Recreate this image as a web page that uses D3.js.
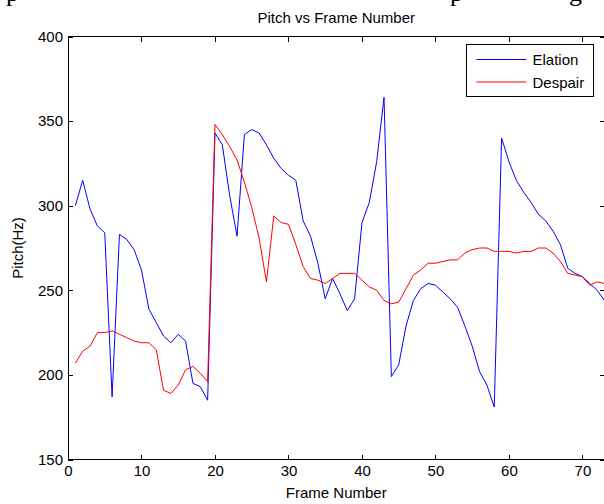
<!DOCTYPE html>
<html>
<head>
<meta charset="utf-8">
<style>
body { margin: 0; background: #fff; }
svg text { font-family: "Liberation Sans", Arial, sans-serif; fill: #000; }
.axis path, .axis line { fill: none; stroke: #000; shape-rendering: crispEdges; }
.axis text { font-size: 15px; }
.clip-text { font-family: "Liberation Serif", "DejaVu Serif", serif !important; font-size: 26px; }
</style>
</head>
<body>
<svg id="chart"></svg>
<script src="https://d3js.org/d3.v7.min.js"></script>
<script>

var frames = d3.range(1, 74)

var elation = [300, 315, 298, 288, 284, 187, 283, 280, 274, 262,
  239, 231, 223, 219, 224, 220, 195, 193, 185, 343,
  336, 306, 282, 342, 345, 343, 336, 328, 322, 318,
  315, 291, 282, 266, 245, 257, 248, 238, 245, 290,
  302, 326, 364, 199, 206, 229, 244, 251, 254, 253,
  249, 245, 240, 229, 217, 202, 194, 181, 340, 326,
  315, 308, 302, 295, 291, 285, 277, 263, 260, 258,
  254, 250, 244]

var despair = [207, 214, 217, 225, 225, 226, 224, 222, 220, 219,
  219, 215, 191, 189, 194, 203, 205, 201, 196, 348,
  342, 335, 327, 314, 299, 281, 255, 294, 290, 289,
  277, 264, 257, 256, 254, 257, 260, 260, 260, 256,
  252, 250, 244, 242, 243, 251, 259, 262, 266, 266,
  267, 268, 268, 272, 274, 275, 275, 273, 273, 273,
  272, 273, 273, 275, 275, 272, 267, 260, 259, 258,
  253, 255, 254]

var seriesNames = ["Elation", "Despair"]
var seriesColors = ["#0000ff", "#ff0000"]
var xTicks = [0, 10, 20, 30, 40, 50, 60, 70]
var yTicks = [150, 200, 250, 300, 350, 400]

var width = 604, height = 504
var plotL = 68, plotR = 604.5, plotT = 36.5, plotB = 459.5

var x = d3.scaleLinear().domain([0, 73]).range([plotL, plotR])
var y = d3.scaleLinear().domain([150, 400]).range([plotB, plotT])

var svg = d3.select("#chart")
  .attr("width", width)
  .attr("height", height)

// descenders of the document text line cut off above the figure
svg.selectAll(".clip-text")
  .data([[6, "p"], [450, "p"], [569, "g"]])
  .enter().append("text")
  .attr("class", "clip-text")
  .attr("x", d => d[0])
  .attr("y", 1)
  .text(d => d[1])

// box
svg.append("rect")
  .attr("x", plotL)
  .attr("y", plotT)
  .attr("width", plotR - plotL)
  .attr("height", plotB - plotT)
  .attr("fill", "none")
  .attr("stroke", "#000")
  .attr("shape-rendering", "crispEdges")

svg.append("g")
  .attr("class", "axis")
  .attr("transform", `translate(0,${plotB})`)
  .call(d3.axisBottom(x).tickValues(xTicks).tickSizeInner(-5).tickSizeOuter(0).tickPadding(6))

svg.append("g")
  .attr("class", "axis")
  .attr("transform", `translate(0,${plotT})`)
  .call(d3.axisTop(x).tickValues(xTicks).tickSizeInner(-5).tickSizeOuter(0).tickFormat(""))

svg.append("g")
  .attr("class", "axis")
  .attr("transform", `translate(${plotL},0)`)
  .call(d3.axisLeft(y).tickValues(yTicks).tickSizeInner(-5).tickSizeOuter(0).tickPadding(5))

svg.append("g")
  .attr("class", "axis")
  .attr("transform", `translate(${plotR},0)`)
  .call(d3.axisRight(y).tickValues(yTicks).tickSizeInner(-5).tickSizeOuter(0).tickFormat(""))

svg.selectAll(".axis .domain").remove()

var line = d3.line()
  .x((d, i) => x(frames[i]))
  .y(d => y(d))

svg.selectAll(".series")
  .data([elation, despair])
  .enter().append("path")
  .attr("class", "series")
  .attr("d", line)
  .attr("fill", "none")
  .attr("stroke", (d, i) => seriesColors[i])
  .attr("stroke-width", 1)

// title and labels
svg.append("text")
  .attr("x", (plotL + plotR) / 2)
  .attr("y", 23)
  .attr("text-anchor", "middle")
  .style("font-size", "15px")
  .text("Pitch vs Frame Number")

svg.append("text")
  .attr("x", (plotL + plotR) / 2)
  .attr("y", 498)
  .attr("text-anchor", "middle")
  .style("font-size", "15px")
  .text("Frame Number")

svg.append("text")
  .attr("transform", `translate(23,${(plotT + plotB) / 2}) rotate(-90)`)
  .attr("text-anchor", "middle")
  .style("font-size", "15px")
  .text("Pitch(Hz)")

// legend
var legend = svg.append("g")
  .attr("transform", "translate(466.5,44.5)")

legend.append("rect")
  .attr("width", 127)
  .attr("height", 52)
  .attr("fill", "#fff")
  .attr("stroke", "#000")
  .attr("shape-rendering", "crispEdges")

var items = legend.selectAll(".item")
  .data(seriesNames)
  .enter().append("g")
  .attr("class", "item")
  .attr("transform", (d, i) => `translate(0,${15 + i * 22.5})`)

items.append("line")
  .attr("x1", 10)
  .attr("x2", 60)
  .attr("stroke", d => seriesColors[seriesNames.indexOf(d)])

items.append("text")
  .attr("x", 66)
  .attr("y", 5.5)
  .style("font-size", "15px")
  .text(d => d)

</script>
</body>
</html>
